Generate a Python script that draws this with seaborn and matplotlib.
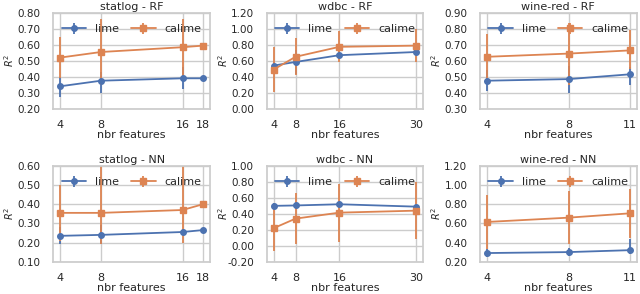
import numpy as np
import matplotlib
matplotlib.use("Agg")
import matplotlib.pyplot as plt
import seaborn as sns
from matplotlib.ticker import FormatStrFormatter

# panels (dataset - model)
titles = ["statlog - RF", "wdbc - RF", "wine-red - RF",
          "statlog - NN", "wdbc - NN", "wine-red - NN"]
feats = [[4, 8, 16, 18], [4, 8, 16, 30], [4, 8, 11],
         [4, 8, 16, 18], [4, 8, 16, 30], [4, 8, 11]]
ylims = [(0.2, 0.8), (0.0, 1.2), (0.3, 0.9),
         (0.1, 0.6), (-0.2, 1.0), (0.2, 1.2)]

# lime: mean, lower, upper
lime_mean = [[0.34, 0.375, 0.39, 0.39], [0.54, 0.585, 0.67, 0.71], [0.475, 0.485, 0.515],
             [0.235, 0.24, 0.255, 0.265], [0.50, 0.505, 0.52, 0.49], [0.29, 0.30, 0.32]]
lime_lo = [[0.27, 0.30, 0.32, 0.385], [0.50, 0.43, 0.62, 0.68], [0.41, 0.40, 0.45],
           [0.19, 0.19, 0.245, 0.26], [0.47, 0.48, 0.50, 0.47], [0.25, 0.26, 0.28]]
lime_hi = [[0.40, 0.43, 0.46, 0.395], [0.58, 0.74, 0.72, 0.74], [0.54, 0.57, 0.56],
           [0.28, 0.29, 0.265, 0.27], [0.53, 0.53, 0.54, 0.51], [0.33, 0.34, 0.44]]

# calime: mean, lower, upper
calime_mean = [[0.52, 0.555, 0.585, 0.595], [0.49, 0.65, 0.775, 0.79], [0.625, 0.645, 0.665],
               [0.355, 0.355, 0.37, 0.40], [0.22, 0.34, 0.415, 0.44], [0.615, 0.66, 0.705]]
calime_lo = [[0.39, 0.35, 0.40, 0.585], [0.21, 0.42, 0.59, 0.59], [0.48, 0.45, 0.55],
             [0.21, 0.19, 0.20, 0.395], [-0.07, 0.02, 0.05, 0.08], [0.33, 0.38, 0.45]]
calime_hi = [[0.65, 0.76, 0.76, 0.605], [0.77, 0.89, 0.97, 1.00], [0.77, 0.84, 0.79],
             [0.50, 0.62, 0.62, 0.405], [0.50, 0.66, 0.78, 0.80], [0.90, 0.94, 0.96]]

sns.set_theme(style="whitegrid", palette="deep")
colors = sns.color_palette("deep")

fig, axes = plt.subplots(2, 3, figsize=(6.4, 2.94), dpi=100)
fig.subplots_adjust(left=0.083, right=0.995, top=0.956, bottom=0.11,
                    wspace=0.36, hspace=0.6)

for i, ax in enumerate(axes.flat):
    x = np.array(feats[i])
    for name, m, lo, hi, c, mk in [
        ("lime", lime_mean[i], lime_lo[i], lime_hi[i], colors[0], "o"),
        ("calime", calime_mean[i], calime_lo[i], calime_hi[i], colors[1], "s"),
    ]:
        m = np.array(m)
        yerr = np.vstack([m - np.array(lo), np.array(hi) - m])
        ax.errorbar(x, m, yerr=yerr, color=c, marker=mk, markersize=4,
                    linewidth=1.3, elinewidth=1.3, capsize=0, label=name)
    ax.set_title(titles[i], fontsize=8, pad=2)
    ax.set_xticks(feats[i])
    ax.set_ylim(*ylims[i])
    ax.set_yticks(np.round(np.arange(ylims[i][0], ylims[i][1] + 1e-9,
                                     0.2 if ylims[i][1] - ylims[i][0] > 0.7 else 0.1), 2))
    ax.yaxis.set_major_formatter(FormatStrFormatter("%.2f"))
    ax.tick_params(axis="y", labelsize=7.5, pad=3)
    ax.tick_params(axis="x", labelsize=8, pad=2)
    ax.set_xlabel("nbr features", fontsize=8, labelpad=0)
    ax.set_ylabel("$R^2$", fontsize=7)
    ax.yaxis.set_label_coords(-0.235, 0.5)
    ax.legend(loc="upper center", ncol=2, frameon=False, fontsize=8,
              borderaxespad=0.6, handlelength=2.2, handletextpad=0.8,
              columnspacing=1.1)

fig.savefig("out.png", dpi=100)
